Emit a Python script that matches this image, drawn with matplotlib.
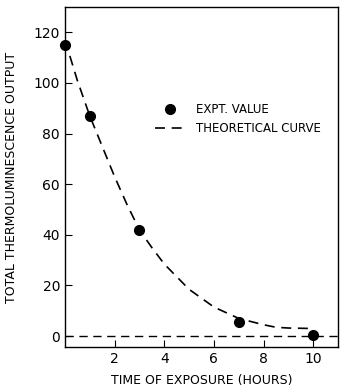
import matplotlib
matplotlib.use("Agg")
import matplotlib.pyplot as plt
from matplotlib.lines import Line2D

# Experimental points
hours = [0, 1, 3, 7, 10]
expt_output = [115, 87, 42, 5.5, 0.5]

# Theoretical curve
curve_hours = [0, 0.5, 1, 1.5, 2, 2.5, 3, 3.5, 4, 5, 6, 7, 8, 8.5, 9, 10]
curve_output = [117, 101, 87, 75, 63, 52, 42, 35, 28.5, 18.5, 11.5, 7, 4.5, 3.5, 3.2, 3.0]

xticks = [2, 4, 6, 8, 10]
yticks = [0, 20, 40, 60, 80, 100, 120]

plt.rcParams['font.family'] = ['DejaVu Sans']

fig = plt.figure(figsize=(3.4, 3.91), dpi=100)
ax = fig.add_axes([0.191, 0.1125, 0.803, 0.8695])

ax.plot(curve_hours, curve_output, color='black', ls=(0, (6, 4)), lw=1.2)
ax.axhline(0, color='black', ls=(0, (6, 4)), lw=1.0)
ax.plot(hours, expt_output, 'o', color='black', ms=7, clip_on=False, zorder=5)

ax.set_xlim(0, 11)
ax.set_ylim(-4.3, 130)
ax.set_xticks(xticks)
ax.set_yticks(yticks)
ax.tick_params(direction='in', length=5, width=0.8, labelsize=10)
for s in ax.spines.values():
    s.set_linewidth(1.0)

ax.set_xlabel('TIME OF EXPOSURE (HOURS)', fontsize=9, labelpad=6)
ax.set_ylabel('TOTAL THERMOLUMINESCENCE OUTPUT', fontsize=9, labelpad=11)

handles = [
    Line2D([], [], marker='o', ls='none', color='black', ms=7),
    Line2D([], [], color='black', ls=(0, (6, 4)), lw=1.2),
]
ax.legend(handles, ['EXPT. VALUE', 'THEORETICAL CURVE'], loc='upper left',
          bbox_to_anchor=(0.32, 0.725), frameon=False, fontsize=8.5,
          handlelength=2.6, handletextpad=0.9, labelspacing=0.5,
          borderaxespad=0, borderpad=0.2)

fig.savefig('out.png', dpi=100)
